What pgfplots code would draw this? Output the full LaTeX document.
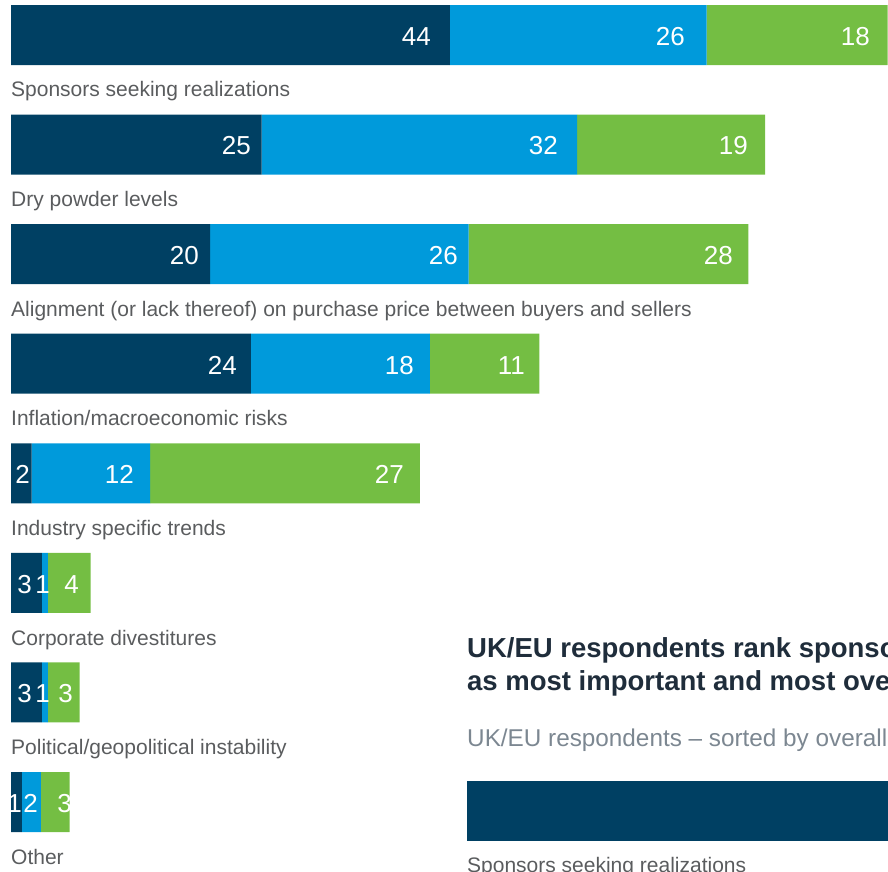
\documentclass[border=0pt]{standalone}
\usepackage{pgfplots}
\pgfplotsset{compat=1.18}
\usepackage{fontspec}
\setmainfont{Liberation Sans}

\definecolor{navy}{HTML}{004063}
\definecolor{sky}{HTML}{009ADB}
\definecolor{leaf}{HTML}{74BE43}
\definecolor{lbl}{HTML}{5A5C5E}
\definecolor{ttl}{HTML}{1F2D3B}
\definecolor{subt}{HTML}{7C8791}

% y = bar centre (px from top), a/b/c = segment values
\pgfplotstableread{
y     a    b    c
35    44.1 25.8 18.2
144.6 25.2 31.7 18.9
254.1 20.0 26.0 28.1
363.7 24.1 18.0 11.0
473.3 2.08 11.9 27.1
582.9 3.1  0.6  4.3
692.4 3.1  0.6  3.2
802   1.1  1.9  2.9
}\bars

\pgfplotsset{
  frame/.style={at={(0pt,0pt)}, anchor=north west, scale only axis,
    height=871pt, ymin=0, ymax=871, y dir=reverse, hide axis},
}

\begin{document}
\begin{tikzpicture}
\useasboundingbox (0,0) rectangle (888pt,-871pt);
\clip (0,0) rectangle (888pt,-871pt);

% stacked bars, 9.95px per unit, zero at x=11px
\begin{axis}[frame, width=888pt, xmin=-1.1055, xmax=88.14,
    xbar stacked, bar width=60pt]
  \addplot[fill=navy, draw=none] table[x=a, y=y] {\bars};
  \addplot[fill=sky, draw=none] table[x=b, y=y] {\bars};
  \addplot[fill=leaf, draw=none] table[x=c, y=y] {\bars};
\end{axis}

% second chart, first bar only (cut off)
\begin{axis}[frame, at={(467pt,0pt)}, width=421pt, xmin=0, xmax=42.3,
    xbar stacked, bar width=60pt]
  \addplot[fill=navy, draw=none] coordinates {(50,811)};
\end{axis}

% labels, in pixel coordinates
\begin{axis}[frame, width=888pt, xmin=0, xmax=888, clip=false,
    point meta=explicit symbolic]
  \addplot[draw=none, mark=none, nodes near coords,
    nodes near coords style={anchor=base east, inner sep=0pt, text=white,
      font=\fontsize{26}{26}\selectfont}] coordinates {
    (431,45) [44] (685,45) [26] (870,45) [18]
    (251,154) [25] (558,154) [32] (748,154) [19]
    (199,264) [20] (458,264) [26] (733,264) [28]
    (237,374) [24] (414,374) [18] (525,374) [11]
    (30,483) [2] (134,483) [12] (404,483) [27]
    (32,593) [3] (50,593) [1] (79,593) [4]
    (32,702) [3] (50,702) [1] (73,702) [3]
    (22,812) [1] (38,812) [2] (72,812) [3]
  };
  \addplot[draw=none, mark=none, nodes near coords,
    nodes near coords style={anchor=base west, inner sep=0pt, text=lbl,
      font=\fontsize{21}{24}\selectfont}] coordinates {
    (11,96) [Sponsors seeking realizations]
    (11,206) [Dry powder levels]
    (11,316) [Alignment (or lack thereof) on purchase price between buyers and sellers]
    (11,425) [Inflation/macroeconomic risks]
    (11,535) [Industry specific trends]
    (11,645) [Corporate divestitures]
    (11,754) [Political/geopolitical instability]
    (11,864) [Other]
    (467,872) [Sponsors seeking realizations]
  };
  \node[anchor=base west, inner sep=0pt, text=ttl,
    font=\bfseries\fontsize{27.5}{33}\selectfont] at (axis cs:467,657)
    {UK/EU respondents rank sponsors seeking realizations};
  \node[anchor=base west, inner sep=0pt, text=ttl,
    font=\bfseries\fontsize{27.5}{33}\selectfont] at (axis cs:467,690)
    {as most important and most overall};
  \node[anchor=base west, inner sep=0pt, text=subt,
    font=\fontsize{24.3}{28}\selectfont] at (axis cs:467,746)
    {UK/EU respondents – sorted by overall ranking};
\end{axis}
\end{tikzpicture}
\end{document}
